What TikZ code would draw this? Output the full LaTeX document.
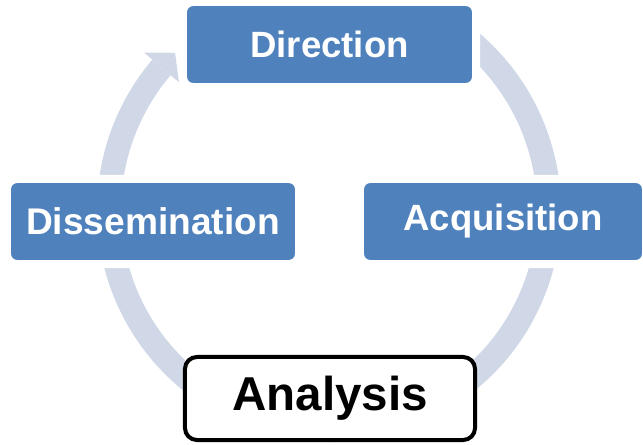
\documentclass[tikz,border=0pt]{standalone}
\usepackage{fontspec}
\setmainfont{Liberation Sans}
\usepackage{tikz}
\usetikzlibrary{calc,positioning}
\definecolor{boxblue}{RGB}{79,129,189}
\definecolor{ringblue}{RGB}{208,216,232}
\begin{document}
\begin{tikzpicture}[x=0.025cm,y=0.025cm,
  stagebox/.style={rectangle,rounded corners=0.25cm,fill=boxblue,draw=white,line width=0.2cm,
    minimum height=2.125cm,text=white,font=\bfseries\fontsize{26}{31}\selectfont,inner sep=0pt},
  ring/.style={ringblue,line width=0.6cm}]
\useasboundingbox (0,0) rectangle (643,445);
\coordinate (c) at (329,235);
\draw[ring] ($(c)+(65:220)$) arc[start angle=65,end angle=-220.4,radius=220];
\fill[ringblue] ($(c)+(139.6:197)$) -- ($(c)+(134.4:220)$) -- ($(c)+(139.6:243)$) -- cycle;
\node[stagebox,minimum width=7.325cm] (direction) at (329.5,400.5) {Direction};
\node[stagebox,minimum width=7.3cm,font=\bfseries\fontsize{26.4}{31}\selectfont] (dissemination) at (153,223.5) {Dissemination};
\node[stagebox,minimum width=7.15cm] (acquisition) at (503,223.5) {Acquisition};
\node[rectangle,rounded corners=0.3cm,fill=white,draw=black,line width=0.1cm,
  minimum width=7.25cm,minimum height=2.075cm,font=\bfseries\fontsize{33.8}{40}\selectfont] (analysis) at (330,46.5) {Analysis};
\end{tikzpicture}
\end{document}
